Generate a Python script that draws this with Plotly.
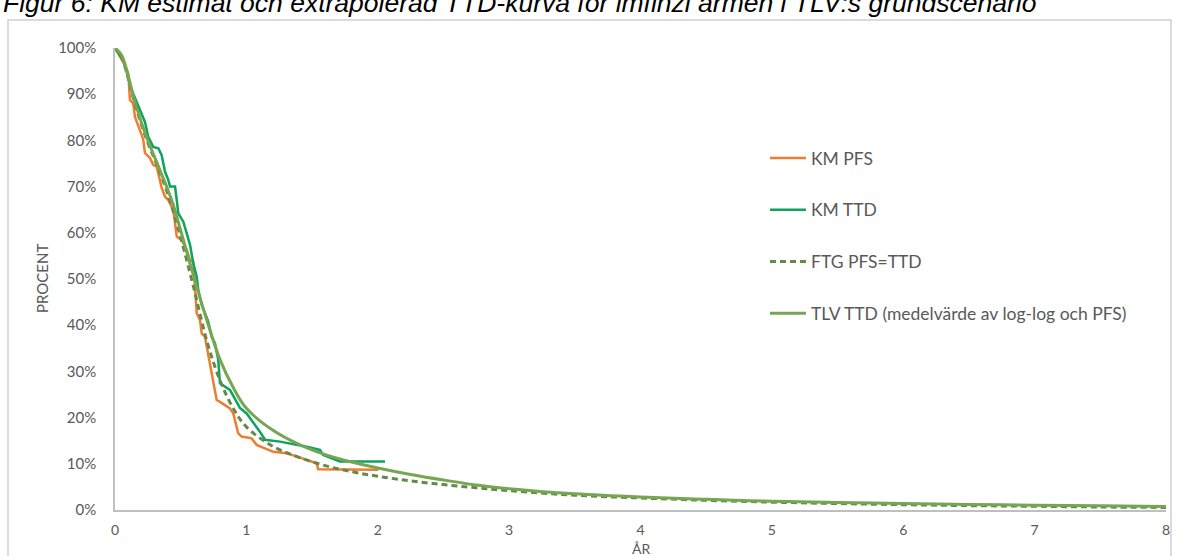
import plotly.graph_objects as go

# ---------------- data ----------------
km_pfs_t = [0, 0.076, 0.101, 0.114, 0.139, 0.152, 0.203, 0.215, 0.228, 0.266, 0.291, 0.317,
            0.342, 0.355, 0.381, 0.406, 0.444, 0.470, 0.508, 0.546, 0.571, 0.596, 0.622,
            0.647, 0.660, 0.685, 0.736, 0.774, 0.799, 0.875, 0.900, 0.938, 0.964, 1.040,
            1.078, 1.205, 1.307, 1.395, 1.535, 1.547, 2.004]
km_pfs_s = [100, 96.3, 94.5, 88.7, 88.0, 85.1, 81.2, 80.1, 77.3, 76.2, 74.7, 74.3,
            71.4, 69.7, 67.8, 67.1, 64.9, 59.2, 58.4, 56.3, 54.1, 53.7, 42.6,
            41.1, 38.2, 37.5, 29.6, 23.8, 23.4, 22.0, 20.9, 16.6, 15.9, 15.5,
            14.1, 12.6, 12.3, 11.5, 10.1, 8.8, 8.7]

km_ttd_t = [0, 0.063, 0.127, 0.165, 0.215, 0.228, 0.253, 0.291, 0.330, 0.355, 0.381, 0.406,
            0.419, 0.457, 0.470, 0.482, 0.520, 0.546, 0.571, 0.596, 0.622, 0.634, 0.660,
            0.685, 0.710, 0.736, 0.761, 0.786, 0.799, 0.875, 0.951, 1.002, 1.040, 1.104,
            1.142, 1.256, 1.459, 1.560, 1.585, 1.712, 2.055]
km_ttd_s = [100, 97.4, 90.9, 88.4, 84.8, 84.0, 80.8, 78.6, 78.3, 76.8, 73.2, 71.4,
            70.0, 70.0, 67.1, 64.2, 62.4, 59.9, 57.4, 53.4, 50.5, 47.6, 44.4,
            42.6, 40.8, 37.5, 36.1, 32.5, 27.4, 26.0, 22.1, 20.9, 19.5, 16.9,
            15.2, 14.8, 13.7, 13.0, 11.9, 10.5, 10.5]

curve_t = [0, 0.05, 0.1, 0.15, 0.2, 0.25, 0.3, 0.35, 0.4, 0.45, 0.5, 0.6, 0.7, 0.8, 0.9,
           1.0, 1.2, 1.4, 1.6, 1.8, 2.0, 2.25, 2.5, 2.75, 3.0, 3.5, 4.0, 4.5, 5.0, 5.5,
           6.0, 6.5, 7.0, 7.5, 8.0]
ftg_s = [100, 98, 93.5, 88, 83.5, 79.5, 76, 72.5, 68.5, 64, 59, 48, 36.5, 28.0, 22.0,
         18.0, 13.8, 11.4, 9.6, 8.3, 7.3, 6.3, 5.5, 4.8, 4.2, 3.2, 2.6, 2.1, 1.7, 1.4,
         1.15, 0.95, 0.8, 0.65, 0.55]
tlv_s = [100, 98.5, 94.0, 88.5, 84.0, 80.0, 76.5, 73.0, 69.5, 65.5, 60.5, 50.5, 41.0, 32.5, 26.5,
         22.0, 17.3, 14.2, 12.0, 10.4, 9.1, 7.7, 6.5, 5.4, 4.6, 3.5, 2.8, 2.3, 1.9, 1.65,
         1.4, 1.2, 1.05, 0.9, 0.75]

y_ticks = [0, 10, 20, 30, 40, 50, 60, 70, 80, 90, 100]
y_tick_labels = [f"{v}%" for v in y_ticks]
x_ticks = [0, 1, 2, 3, 4, 5, 6, 7, 8]

names = ["KM PFS", "KM TTD", "FTG PFS=TTD", "TLV TTD (medelvärde av log-log och PFS)"]
title_text = "Figur 6: KM estimat och extrapolerad TTD-kurva för imfinzi armen i TLV:s grundscenario"
x_title = "ÅR"
y_title = "PROCENT"

# ---------------- figure ----------------
W, H = 1180, 556
L, R, T, B = 115, 14, 48, 46
pw, ph = W - L - R, H - T - B

def px(xp):
    return (xp - L) / pw

def py(yp):
    return (H - B - yp) / ph

grey_txt = "#595959"
font_main = "Lato, 'Open Sans', Arial, sans-serif"

fig = go.Figure()
fig.add_trace(go.Scatter(x=km_pfs_t, y=km_pfs_s, mode="lines", name=names[0],
                         line=dict(color="#ED7D31", width=2.5), legendgroup="a"))
fig.add_trace(go.Scatter(x=km_ttd_t, y=km_ttd_s, mode="lines", name=names[1],
                         line=dict(color="#0FA35F", width=2.5), legendgroup="b"))
fig.add_trace(go.Scatter(x=curve_t, y=ftg_s, mode="lines", name=names[2],
                         line=dict(color="#638A48", width=3, dash="6px,4px", shape="spline"),
                         legendgroup="c"))
fig.add_trace(go.Scatter(x=curve_t, y=tlv_s, mode="lines", name=names[3],
                         line=dict(color="#77A653", width=3, shape="spline"), legendgroup="d"))

fig.update_layout(
    width=W, height=H,
    margin=dict(l=L, r=R, t=T, b=B, autoexpand=False),
    paper_bgcolor="white", plot_bgcolor="white",
    font=dict(family=font_main, color=grey_txt, size=14),
    showlegend=True,
    legend=dict(x=px(765), y=py(140), xanchor="left", yanchor="top",
                font=dict(size=17.5, color=grey_txt, family=font_main),
                itemwidth=36, tracegroupgap=26, bgcolor="rgba(0,0,0,0)"),
    xaxis=dict(range=[0, 8], tickvals=x_ticks, showgrid=False, zeroline=False,
               showline=True, linecolor="#BFBFBF", linewidth=1.5, ticks="",
               tickfont=dict(size=14, color=grey_txt), ticklabelstandoff=6,
               automargin=False),
    yaxis=dict(range=[0, 100], tickvals=y_ticks, ticktext=y_tick_labels, showgrid=False,
               zeroline=False, showline=True, linecolor="#BFBFBF", linewidth=1.5, ticks="",
               tickfont=dict(size=15, color=grey_txt), ticklabelstandoff=14,
               automargin=False),
)

# axis titles
fig.add_annotation(text=x_title, xref="paper", yref="paper", x=px(641), y=py(548),
                   xanchor="center", yanchor="middle", showarrow=False,
                   font=dict(size=14, color=grey_txt, family=font_main))
fig.add_annotation(text=y_title, xref="paper", yref="paper", x=px(42), y=py(279),
                   xanchor="center", yanchor="middle", showarrow=False, textangle=-90,
                   font=dict(size=15, color=grey_txt, family=font_main))

# outer frame of the original figure
fig.add_shape(type="rect", xref="paper", yref="paper",
              x0=px(8), x1=px(1171), y0=py(570), y1=py(20),
              line=dict(color="#D0D0D0", width=1.5), fillcolor="rgba(0,0,0,0)", layer="below")

# title (partly cut at top, as in the reference)
fig.add_annotation(text=title_text, xref="paper", yref="paper", x=px(1), y=py(3),
                   xanchor="left", yanchor="middle", showarrow=False,
                   font=dict(family="Arial, 'Liberation Sans', sans-serif", size=26.5,
                             color="black", style="italic"))

fig.write_html("out.html")
